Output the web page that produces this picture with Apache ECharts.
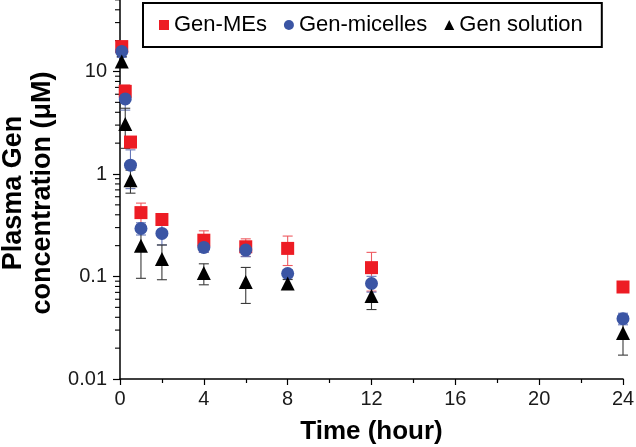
<!DOCTYPE html>
<html>
<head>
<meta charset="utf-8">
<script src="https://cdn.jsdelivr.net/npm/echarts@6/dist/echarts.min.js"></script>
<style>html,body{margin:0;padding:0;background:#fff;}#c{width:636px;height:447px;}</style>
</head>
<body>
<div id="c"></div>
<script>
// ---- data ----
const times = [0.083, 0.25, 0.5, 1, 2, 4, 6, 8, 12, 24];
const mesMean = [17.5, 6.4, 2.05, 0.42, 0.36, 0.226, 0.195, 0.188, 0.122, 0.079];
const mesSD   = [2.1, 1.0, 0.25, 0.1, 0.04, 0.053, 0.038, 0.06, 0.05, 0.006];
const micMean = [15.7, 5.4, 1.22, 0.294, 0.263, 0.192, 0.181, 0.107, 0.0854, 0.0388];
const micSD   = [2.0, 1.2, 0.5, 0.04, 0.06, 0.02, 0.025, 0.01, 0.015, 0.005];
const solMean = [12.5, 3.08, 0.87, 0.2, 0.148, 0.108, 0.0886, 0.0854, 0.0646, 0.0281];
const solSD   = [1.5, 1.3, 0.22, 0.104, 0.055, 0.025, 0.034, 0.008, 0.017, 0.011];
const seriesNames = ['Gen-MEs', 'Gen-micelles', 'Gen solution'];
const xTicks = [0, 4, 8, 12, 16, 20, 24];
const yMajorTicks = [0.01, 0.1, 1, 10];
const yMinorTicks = [0.02,0.03,0.04,0.05,0.06,0.07,0.08,0.09,
                     0.2,0.3,0.4,0.5,0.6,0.7,0.8,0.9,
                     2,3,4,5,6,7,8,9,20,30,40,50,60,70,80,90];

const FONT = "'Liberation Sans', Arial, sans-serif";
const colors = ['#ED1C24', '#3B55A4', '#000000'];
const errColors = ['#EE5A60', '#6677B8', '#3a3a3a'];

function pts(mean) { return times.map((t, i) => [t, mean[i]]); }
function errs(mean, sd) { return times.map((t, i) => [t, mean[i] - sd[i], mean[i] + sd[i]]); }

function errSeries(data, color) {
  return {
    type: 'custom', silent: true, clip: false, z: 2,
    data: data,
    encode: { x: 0, y: [1, 2] },
    renderItem: function (params, api) {
      const x = api.value(0), lo = api.value(1), hi = api.value(2);
      const p1 = api.coord([x, hi]), p2 = api.coord([x, lo]);
      const w = 5;
      const st = { stroke: color, lineWidth: 1.1 };
      return { type: 'group', children: [
        { type: 'line', shape: { x1: p1[0], y1: p1[1], x2: p2[0], y2: p2[1] }, style: st },
        { type: 'line', shape: { x1: p1[0]-w, y1: p1[1], x2: p1[0]+w, y2: p1[1] }, style: st },
        { type: 'line', shape: { x1: p2[0]-w, y1: p2[1], x2: p2[0]+w, y2: p2[1] }, style: st }
      ]};
    }
  };
}

const chart = echarts.init(document.getElementById('c'), null, { renderer: 'canvas' });
chart.setOption({
  animation: false,
  textStyle: { fontFamily: FONT },
  grid: { left: 120, right: 13, top: -31, bottom: 68, containLabel: false, outerBoundsMode: 'none' },
  legend: {
    left: 143, top: 3,
    orient: 'horizontal',
    data: [
      { name: seriesNames[0], icon: 'rect' },
      { name: seriesNames[1], icon: 'circle' },
      { name: seriesNames[2], icon: 'triangle' }
    ],
    itemWidth: 10, itemHeight: 10, itemGap: 17,
    padding: [11, 19, 11, 16],
    borderColor: '#000', borderWidth: 2, borderRadius: 0,
    textStyle: { fontSize: 22, color: '#000', fontFamily: FONT }
  },
  xAxis: {
    type: 'value', min: xTicks[0], max: xTicks[xTicks.length-1], interval: 4,
    name: 'Time (hour)', nameLocation: 'middle', nameGap: 40,
    nameTextStyle: { fontSize: 26, fontWeight: 'bold', color: '#000', fontFamily: FONT },
    axisLine: { show: true, lineStyle: { color: '#000', width: 1.5 } },
    axisTick: { show: true, length: 6, lineStyle: { color: '#000', width: 1.2 } },
    minorTick: { show: true, splitNumber: 2, length: 4, lineStyle: { color: '#000', width: 1.2 } },
    axisLabel: { fontSize: 20, color: '#1a1a1a', margin: 10, fontFamily: FONT },
    splitLine: { show: false }
  },
  yAxis: {
    type: 'log', logBase: 10, min: yMajorTicks[0], max: 100,
    name: 'Plasma Gen\nconcentration (μM)', nameLocation: 'middle', nameGap: 58, nameRotate: 90,
    nameTextStyle: { fontSize: 27, fontWeight: 'bold', color: '#000', lineHeight: 29, fontFamily: FONT, padding: [0, 38, 0, 0] },
    axisLine: { show: true, lineStyle: { color: '#000', width: 1.5 } },
    axisTick: { show: true, length: 7, lineStyle: { color: '#000', width: 1.2 } },
    axisLabel: { fontSize: 20, color: '#1a1a1a', margin: 13, fontFamily: FONT,
      formatter: function (v) { return yMajorTicks.indexOf(+v) >= 0 ? String(v) : ''; } },
    splitLine: { show: false }
  },
  series: [
    {
      type: 'custom', silent: true, clip: false, z: 1,
      data: yMinorTicks.map(v => [0, v]),
      encode: { x: 0, y: 1 },
      renderItem: function (params, api) {
        const p = api.coord([api.value(0), api.value(1)]);
        return { type: 'line', shape: { x1: p[0]-5, y1: p[1], x2: p[0], y2: p[1] },
                 style: { stroke: '#000', lineWidth: 1.1 } };
      }
    },
    errSeries(errs(mesMean, mesSD), errColors[0]),
    errSeries(errs(micMean, micSD), errColors[1]),
    errSeries(errs(solMean, solSD), errColors[2]),
    { name: seriesNames[0], type: 'scatter', data: pts(mesMean), symbol: 'rect', symbolSize: 13, itemStyle: { color: colors[0], opacity: 1 }, z: 3 },
    { name: seriesNames[1], type: 'scatter', data: pts(micMean), symbol: 'circle', symbolSize: 13, itemStyle: { color: colors[1], opacity: 1 }, z: 4 },
    { name: seriesNames[2], type: 'scatter', data: pts(solMean), symbol: 'triangle', symbolSize: 14, itemStyle: { color: colors[2], opacity: 1 }, z: 5 }
  ]
});
</script>
</body>
</html>
